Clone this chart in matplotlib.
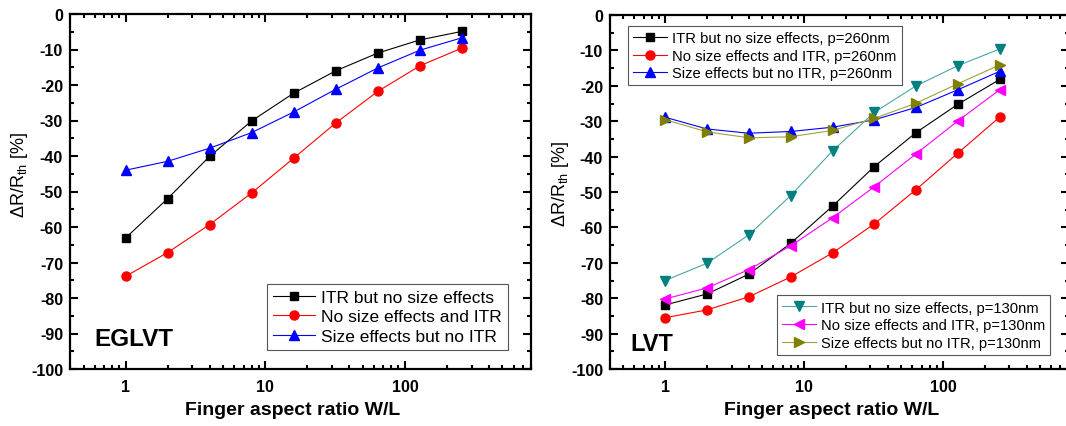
import matplotlib
matplotlib.use("Agg")
import matplotlib.pyplot as plt
from matplotlib.ticker import MultipleLocator, LogLocator, NullFormatter

plt.rcParams['font.family'] = ['Liberation Sans', 'DejaVu Sans']
plt.rcParams['mathtext.fontset'] = 'custom'
plt.rcParams['mathtext.rm'] = 'Liberation Sans'
plt.rcParams['axes.unicode_minus'] = False

# Finger aspect ratio W/L
ratio = [1, 2, 4, 8, 16, 32, 64, 128, 256]

# EGLVT
eg_itr = [-63.1, -52.0, -40.1, -30.1, -22.3, -16.0, -11.0, -7.3, -4.9]
eg_nosize = [-73.9, -67.2, -59.3, -50.4, -40.6, -30.7, -21.8, -14.6, -9.6]
eg_size = [-44.0, -41.5, -37.8, -33.4, -27.6, -21.2, -15.2, -10.2, -6.7]

# LVT, p = 260 nm
lv260_itr = [-81.9, -78.8, -73.2, -64.5, -54.0, -42.8, -33.2, -25.2, -18.2]
lv260_nosize = [-85.5, -83.3, -79.6, -74.0, -67.2, -59.0, -49.3, -39.0, -28.8]
lv260_size = [-28.9, -32.2, -33.4, -32.9, -31.7, -29.6, -26.1, -21.1, -15.9]

# LVT, p = 130 nm
lv130_itr = [-75.0, -70.1, -62.1, -51.0, -38.4, -27.5, -20.0, -14.3, -9.6]
lv130_nosize = [-80.2, -77.1, -71.9, -65.2, -57.3, -48.5, -39.2, -29.9, -21.1]
lv130_size = [-29.6, -33.0, -34.7, -34.4, -32.6, -29.2, -24.9, -19.4, -14.1]

labels_eg = ["ITR but no size effects", "No size effects and ITR",
             "Size effects but no ITR"]
labels_260 = ["ITR but no size effects, p=260nm", "No size effects and ITR, p=260nm",
              "Size effects but no ITR, p=260nm"]
labels_130 = ["ITR but no size effects, p=130nm", "No size effects and ITR, p=130nm",
              "Size effects but no ITR, p=130nm"]

fig = plt.figure(figsize=(10.66, 4.27), dpi=100)
ax1 = fig.add_axes([70/1066, 1-370/427, 461/1066, 355/427])
ax2 = fig.add_axes([610/1066, 1-370/427, 458.5/1066, 354/427])


def style_axes(ax, ylab_y):
    ax.set_xscale('log')
    ax.set_xlim(0.4, 800)
    ax.set_ylim(-100, 0)
    ax.xaxis.set_minor_locator(LogLocator(base=10, subs=range(2, 10), numticks=20))
    ax.xaxis.set_minor_formatter(NullFormatter())
    ax.set_xticks([1, 10, 100])
    ax.set_xticklabels(['1', '10', '100'])
    ax.yaxis.set_major_locator(MultipleLocator(10))
    ax.yaxis.set_minor_locator(MultipleLocator(5))
    ax.tick_params(which='both', direction='in', top=True, right=True, width=1.5,
                   labelsize=11.5)
    ax.tick_params(axis='y', pad=5)
    ax.tick_params(axis='x', pad=7)
    ax.tick_params(which='major', length=6)
    ax.tick_params(which='minor', length=3)
    for lab in ax.get_xticklabels() + ax.get_yticklabels():
        lab.set_fontweight('bold')
    for s in ax.spines.values():
        s.set_linewidth(1.6)
    ax.set_xlabel('Finger aspect ratio W/L', fontsize=14, fontweight='bold')
    ax.xaxis.set_label_coords(0.484, -0.09)
    ax.set_ylabel(r'$\Delta$R/R$_\mathregular{th}$ [%]', fontsize=13)
    ax.yaxis.set_label_coords(-0.086, ylab_y)


def series(ax, y, color, marker, ms, label, lc=None):
    return ax.plot(ratio, y, color=lc or color, lw=0.8, marker=marker, ms=ms,
                   mfc=color, mec=color, label=label)[0]


def legend(ax, handles, loc, anchor, size, hl):
    lg = ax.legend(handles=handles, loc=loc, bbox_to_anchor=anchor, fontsize=size,
                   frameon=True, fancybox=False, framealpha=1, edgecolor='#555555',
                   borderaxespad=0, handlelength=hl, handletextpad=0.35,
                   labelspacing=0.24, borderpad=0.35)
    lg.get_frame().set_linewidth(0.8)
    return lg


style_axes(ax1, 0.55)
h1 = [series(ax1, eg_itr, 'black', 's', 5.5, labels_eg[0]),
      series(ax1, eg_nosize, '#FF0000', 'o', 6.5, labels_eg[1]),
      series(ax1, eg_size, '#0000FF', '^', 7, labels_eg[2])]
legend(ax1, h1, 'lower right', (0.95, 0.054), 12.5, 2.4)
ax1.text(0.052, 0.087, 'EGLVT', transform=ax1.transAxes, fontsize=17.5,
         fontweight='bold', va='center', ha='left')

style_axes(ax2, 0.525)
h2 = [series(ax2, lv260_itr, 'black', 's', 5.5, labels_260[0]),
      series(ax2, lv260_nosize, '#FF0000', 'o', 6.5, labels_260[1]),
      series(ax2, lv260_size, '#0000FF', '^', 7, labels_260[2])]
h3 = [series(ax2, lv130_itr, '#008080', 'v', 7, labels_130[0], lc='#4CA6A6'),
      series(ax2, lv130_nosize, '#FF00FF', '<', 7, labels_130[1]),
      series(ax2, lv130_size, '#808000', '>', 7, labels_130[2], lc='#A0A040')]
lg_top = legend(ax2, h2, 'upper left', (0.039, 0.969), 10.6, 2.3)
ax2.add_artist(lg_top)
legend(ax2, h3, 'lower right', (0.96, 0.04), 10.6, 2.3)
ax2.text(0.044, 0.073, 'LVT', transform=ax2.transAxes, fontsize=17,
         fontweight='bold', va='center', ha='left')

fig.savefig('out.png', dpi=100)
